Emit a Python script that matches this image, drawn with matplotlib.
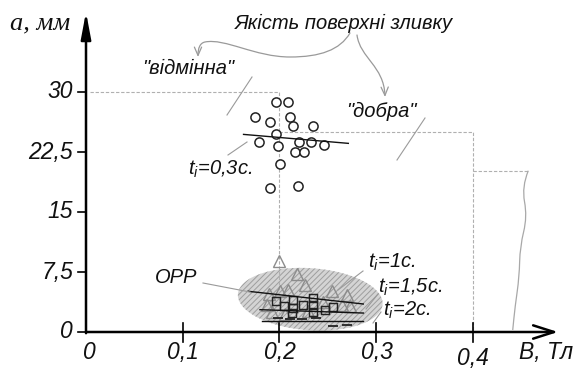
import numpy as np
import matplotlib
matplotlib.use('Agg')
import matplotlib.pyplot as plt
from matplotlib.patches import FancyArrowPatch, Polygon, PathPatch
from matplotlib.path import Path

plt.rcParams['font.family'] = ['Liberation Sans', 'DejaVu Sans']
plt.rcParams['mathtext.fontset'] = 'custom'
plt.rcParams['mathtext.it'] = 'Liberation Sans:italic'
plt.rcParams['mathtext.rm'] = 'Liberation Sans:italic'
plt.rcParams['hatch.linewidth'] = 0.7

# ---------------- data ----------------
x_ticks = [0, 0.1, 0.2, 0.3, 0.4]
x_tick_labels = ['0', '0,1', '0,2', '0,3', '0,4']
y_ticks = [0, 7.5, 15, 22.5, 30]
y_tick_labels = ['0', '7,5', '15', '22,5', '30']

# t_i = 0.3 s (circles)
circ_B = [0.197, 0.209, 0.175, 0.211, 0.190, 0.214, 0.235, 0.197, 0.179,
          0.199, 0.220, 0.233, 0.246, 0.216, 0.226, 0.201, 0.190, 0.219]
circ_a = [28.7, 28.7, 26.9, 26.9, 26.25, 25.75, 25.8, 24.7, 23.7,
          23.2, 23.7, 23.75, 23.4, 22.5, 22.5, 21.0, 18.0, 18.25]
# t_i = 1 s (triangles)
tri_B = [0.200, 0.218, 0.227, 0.209, 0.201, 0.189, 0.254, 0.270, 0.187,
         0.265, 0.273, 0.192, 0.245, 0.206, 0.230]
tri_a = [8.9, 7.2, 5.9, 5.3, 5.1, 4.75, 5.1, 4.65, 3.4,
         3.4, 3.2, 2.5, 3.8, 2.2, 2.6]
# t_i = 1.5 s (squares)
sq_B = [0.197, 0.205, 0.2145, 0.2145, 0.213, 0.225, 0.235, 0.235, 0.235,
        0.247, 0.256]
sq_a = [3.84, 3.2, 4.05, 3.0, 2.4, 3.4, 4.25, 3.4, 2.5, 2.8, 3.1]
# t_i = 2 s (dashes)
dash_B = [0.199, 0.211, 0.223, 0.238, 0.256, 0.270]
dash_a = [1.75, 1.65, 1.6, 1.7, 0.7, 0.9]

# trend lines
fit03_B, fit03_a = [0.163, 0.2714], [24.7, 23.58]
fit1_B, fit1_a = [0.1677, 0.2869], [5.09, 3.5]
fit15_B, fit15_a = [0.180, 0.287], [2.79, 2.37]
fit2_B, fit2_a = [0.1818, 0.2869], [1.33, 1.33]

# surface-quality zone boundaries
zone_exc_B, zone_exc_a = [0.004, 0.2, 0.2], [30, 30, 0]
zone_good_B, zone_good_a = [0.2, 0.4, 0.4], [25, 25, 0]
zone_sat_B, zone_sat_a = [0.4, 0.457], [20.16, 20.16]
break_B = [0.4576, 0.4508, 0.4566, 0.4490, 0.4483, 0.4439, 0.4415]
break_a = [20.16, 18.16, 14.41, 10.66, 6.91, 3.16, 0.25]

# ОРР region (ellipse)
orr_center = (0.2320, 4.10)

# ---------------- figure ----------------
W, H = 580, 373
fig = plt.figure(figsize=(W / 100, H / 100), dpi=100)
ax = fig.add_axes([0, 0, 1, 1])
X0, X1 = -0.08898, 0.5111
Y0, Y1 = -5.125, 41.5
ax.set_xlim(X0, X1)
ax.set_ylim(Y0, Y1)
ax.axis('off')
sx = W / (X1 - X0)
sy = H / (Y1 - Y0)


def px2d(px, py):
    return (X0 + px / sx, Y1 - py / sy)


GRAY = '#9a9a9a'
DASH = '#b0b0b0'

# ellipse (pixel geometry converted to data units)
t = np.linspace(0, 2 * np.pi, 200)
a_px, b_px, ang = 72.5, 31.0, np.deg2rad(-4)
dx = a_px * np.cos(t) * np.cos(ang) - b_px * np.sin(t) * np.sin(ang)
dy = a_px * np.cos(t) * np.sin(ang) + b_px * np.sin(t) * np.cos(ang)
ell = np.column_stack([orr_center[0] + dx / sx, orr_center[1] + dy / sy])
ax.add_patch(Polygon(ell, closed=True, facecolor='#d4d4d4', edgecolor='#9e9e9e',
                     lw=0, hatch='//////', zorder=1))

# zone boundaries
for bx, by in [(zone_exc_B, zone_exc_a), (zone_good_B, zone_good_a), (zone_sat_B, zone_sat_a)]:
    ax.plot(bx, by, color=DASH, lw=0.8, dashes=(3, 1.6), zorder=2)

# break line (wavy)
pts = list(zip(break_B, break_a))
verts = [pts[0]]
codes = [Path.MOVETO]
for i in range(1, len(pts) - 1):
    mid = ((pts[i][0] + pts[i + 1][0]) / 2, (pts[i][1] + pts[i + 1][1]) / 2)
    verts += [pts[i], mid]
    codes += [Path.CURVE3, Path.CURVE3]
verts.append(pts[-1])
codes.append(Path.LINETO)
ax.add_patch(PathPatch(Path(verts, codes), fill=False, edgecolor='#a8a8a8', lw=0.9, zorder=2))

# markers
ax.plot(tri_B, tri_a, linestyle='none', marker='^', ms=8.5, mfc='none', mec='#8c8c8c', mew=1.0, zorder=3)
ax.plot(sq_B, sq_a, linestyle='none', marker='s', ms=6.4, mfc='none', mec='#222222', mew=1.05, zorder=4)
ax.plot(dash_B, dash_a, linestyle='none', marker='_', ms=7, mec='#222222', mew=1.3, zorder=4)
ax.plot(circ_B, circ_a, linestyle='none', marker='o', ms=6.6, mfc='white', mec='#222222', mew=1.1, zorder=4)

for fb, fa in [(fit03_B, fit03_a), (fit1_B, fit1_a), (fit15_B, fit15_a), (fit2_B, fit2_a)]:
    ax.plot(fb, fa, color='#111111', lw=1.0, zorder=5)

# axes with arrows
ax.add_patch(FancyArrowPatch((0, -0.15), (0, 40.0), arrowstyle='-|>,head_length=16,head_width=3',
                             mutation_scale=1, lw=1.8, color='black', shrinkA=0, shrinkB=0, zorder=6))
ax.add_patch(FancyArrowPatch((0, 0), (0.4884, 0), arrowstyle='->,head_length=15,head_width=4.8',
                             mutation_scale=1, lw=1.8, color='black', shrinkA=0, shrinkB=0, zorder=6))

# ticks
for yt in y_ticks:
    ax.plot([-8 / sx, 0], [yt, yt], color='black', lw=1.2, zorder=6)
for xt in x_ticks[1:]:
    ax.plot([xt, xt], [-9.5 / sy, 9 / sy], color='black', lw=1.2, zorder=6)

tick_font = dict(fontsize=16.5, fontstyle='italic', color='#111111')
for yt, lab in zip(y_ticks, y_tick_labels):
    ax.text(-13 / sx, yt, lab, ha='right', va='center', **tick_font)
x_lab_y = [-2.6, -2.6, -2.6, -2.5, -3.3]
for xt, lab, yy in zip(x_ticks, x_tick_labels, x_lab_y):
    ax.text(xt + (0.004 if xt == 0 else 0.0005), yy, lab, ha='center', va='center', **tick_font)

ax.text(-0.0786, 38.6, 'a, мм', ha='left', va='center', fontsize=19, fontstyle='italic',
        family=['Liberation Serif', 'DejaVu Serif'], color='#111111')
ax.text(0.4475, -2.5, 'В, Тл', ha='left', va='center', fontsize=16.5, fontstyle='italic', color='#111111')

lab_font = dict(fontsize=14.5, fontstyle='italic', color='#111111')
ax.text(0.1545, 38.6, 'Якість поверхні зливку', ha='left', va='center', **lab_font)
ax.text(0.0579, 33.0, '"відмінна"', ha='left', va='center', **lab_font)
ax.text(0.269, 27.6, '"добра"', ha='left', va='center', **lab_font)
ax.text(0.1055, 19.6, r'$t_i$=0,3с.', ha='left', va='baseline', **lab_font)
ax.text(0.2918, 8.0, r'$t_i$=1с.', ha='left', va='baseline', **lab_font)
ax.text(0.302, 4.9, r'$t_i$=1,5с.', ha='left', va='baseline', **lab_font)
ax.text(0.3073, 2.0, r'$t_i$=2с.', ha='left', va='baseline', **lab_font)
ax.text(0.0714, 6.1, 'ОРР', ha='left', va='baseline', **lab_font)

# leader lines
leaders = [((203, 283), (250, 292)),
           ((363, 271), (338, 290)),
           ((378, 294), (366, 309)),
           ((381, 312), (373, 323)),
           ((228, 155), (247, 142)),
           ((227, 115), (252, 77)),
           ((397, 160), (425, 118))]
for p, q in leaders:
    a1, a2 = px2d(*p), px2d(*q)
    ax.plot([a1[0], a2[0]], [a1[1], a2[1]], color=GRAY, lw=0.8, zorder=5)

# curved arrows from the title
left_px = [(350, 33), (340, 50), (320, 57), (290, 57), (255, 57), (225, 38), (205, 42),
           (200, 43), (198, 48), (198, 57)]
left_codes = [Path.MOVETO] + [Path.CURVE4] * 9
right_px = [(357, 35), (360, 58), (384, 66), (385, 97)]
right_codes = [Path.MOVETO] + [Path.CURVE4] * 3
for pl, cl in [(left_px, left_codes), (right_px, right_codes)]:
    pth = Path([px2d(*p) for p in pl], cl)
    ax.add_patch(FancyArrowPatch(path=pth, arrowstyle='->,head_length=6,head_width=2.6',
                                 mutation_scale=1, lw=0.9, color=GRAY, zorder=5))

fig.savefig('out.png', dpi=100)
